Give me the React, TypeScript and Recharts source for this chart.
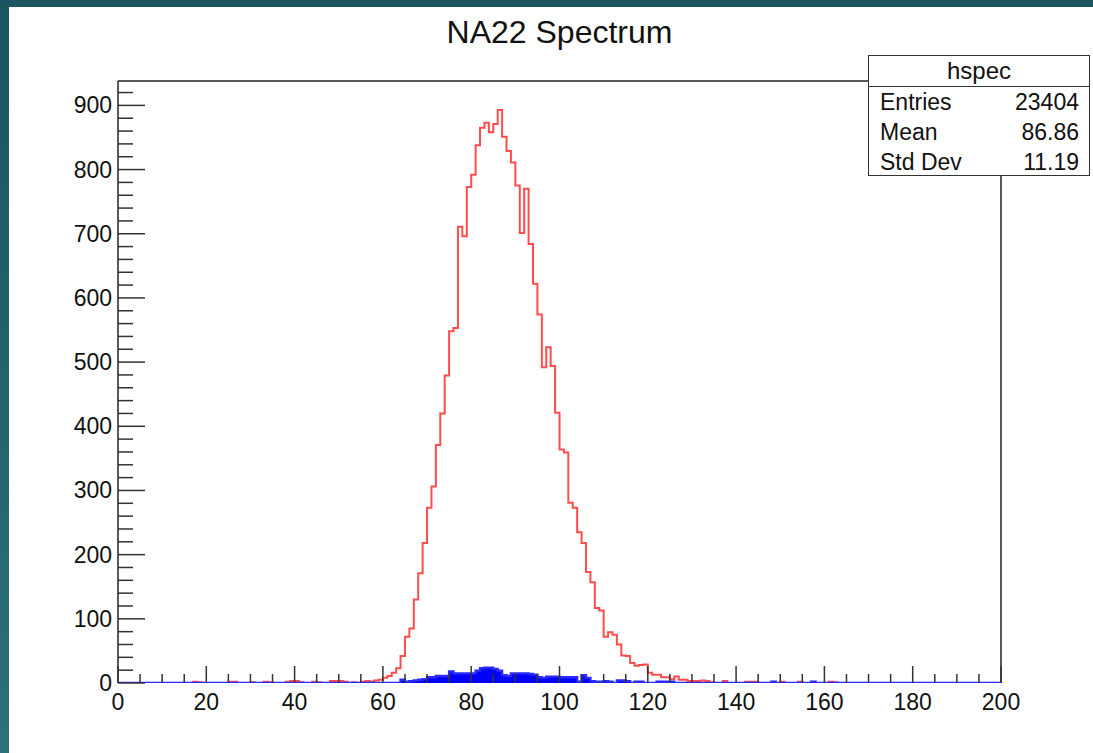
import { ComposedChart, Line, Area, XAxis, YAxis, ReferenceLine } from "recharts";

// 200 bins of width 1, from 0 to 200
const redCounts = [
  0, 0, 0, 0, 0, 0, 0, 0, 0, 0, 0, 0, 0, 0, 0, 0, 0, 2, 1, 0,
  0, 0, 0, 0, 0, 2, 2, 0, 0, 0, 1, 0, 0, 2, 1, 0, 0, 0, 2, 3,
  3, 1, 0, 0, 2, 1, 0, 0, 3, 3, 3, 2, 0, 1, 0, 2, 3, 2, 4, 5,
  8, 11, 16, 23, 42, 72, 85, 130, 171, 218, 273, 306, 371, 420, 479, 548, 553, 711, 696, 773,
  792, 838, 865, 873, 858, 871, 893, 851, 829, 811, 775, 701, 770, 684, 622, 574, 492, 523, 494, 421,
  364, 359, 281, 273, 235, 218, 173, 157, 117, 113, 72, 79, 75, 60, 43, 42, 31, 27, 28, 29,
  16, 13, 13, 9, 9, 6, 10, 5, 5, 3, 3, 3, 4, 3, 1, 0, 0, 3, 0, 0,
  0, 0, 2, 2, 2, 0, 0, 0, 0, 0, 2, 0, 0, 0, 2, 0, 0, 0, 0, 0,
  0, 2, 1, 0, 0, 0, 0, 0, 0, 0, 0, 0, 0, 0, 0, 0, 0, 0, 0, 0,
  0, 0, 0, 0, 0, 0, 0, 0, 0, 0, 0, 0, 0, 0, 0, 0, 0, 0, 0, 0,
];

const blueCounts = [
  0, 0, 0, 0, 0, 0, 0, 0, 0, 0, 0, 0, 0, 0, 0, 0, 0, 0, 0, 0,
  0, 0, 0, 0, 0, 0, 0, 0, 0, 0, 0, 0, 0, 0, 0, 0, 0, 0, 0, 0,
  0, 0, 0, 0, 0, 0, 0, 0, 0, 0, 0, 0, 0, 0, 0, 0, 0, 0, 0, 0,
  0, 0, 0, 0, 5, 2, 3, 4, 5, 6, 9, 9, 11, 11, 11, 18, 15, 15, 15, 15,
  15, 19, 23, 24, 24, 22, 19, 12, 11, 15, 15, 15, 15, 14, 13, 9, 8, 10, 10, 10,
  9, 9, 9, 9, 2, 12, 8, 3, 2, 2, 3, 2, 0, 4, 4, 3, 0, 2, 2, 0,
  0, 0, 2, 2, 2, 2, 0, 0, 0, 0, 0, 0, 0, 0, 0, 0, 0, 0, 0, 0,
  0, 0, 0, 0, 0, 0, 0, 0, 2, 0, 0, 0, 0, 0, 0, 0, 0, 2, 0, 0,
  0, 0, 0, 0, 0, 0, 0, 0, 0, 0, 0, 0, 0, 0, 0, 0, 0, 0, 0, 0,
  0, 0, 0, 0, 0, 0, 0, 0, 0, 0, 0, 0, 0, 0, 0, 0, 0, 0, 0, 0,
];

const xTicks = [
  0, 5, 10, 15, 20, 25, 30, 35, 40, 45, 50, 55, 60, 65, 70, 75, 80, 85, 90, 95, 100,
  105, 110, 115, 120, 125, 130, 135, 140, 145, 150, 155, 160, 165, 170, 175, 180, 185, 190, 195, 200,
];
const yTicks = [
  0, 20, 40, 60, 80, 100, 120, 140, 160, 180, 200, 220, 240, 260, 280, 300, 320, 340, 360, 380,
  400, 420, 440, 460, 480, 500, 520, 540, 560, 580, 600, 620, 640, 660, 680, 700, 720, 740, 760,
  780, 800, 820, 840, 860, 880, 900, 920,
];

const statsRows = [
  ["Entries", "23404"],
  ["Mean", "86.86"],
  ["Std Dev", "11.19"],
];

const X_MAX = 200;
const Y_MAX = 938;
const FONT = '"Liberation Sans", Arial, Helvetica, sans-serif';

const table = redCounts.map((r, i) => ({ x: i, red: r, blue: blueCounts[i] }));
// closing point so the last bin gets its full width
table.push({ x: X_MAX, red: redCounts[199], blue: blueCounts[199] });

const XTick = (props: any) => {
  const { x, y, payload } = props;
  const major = payload.value % 20 === 0;
  return (
    <g>
      <line x1={x} y1={y} x2={x} y2={y - (major ? 17 : 9)} stroke="#333" strokeWidth={1.5} />
      {major && (
        <text x={x} y={y + 19} textAnchor="middle" dominantBaseline="central" fontFamily={FONT} fontSize={23} fill="#111">
          {payload.value}
        </text>
      )}
    </g>
  );
};

const YTick = (props: any) => {
  const { x, y, payload } = props;
  const major = payload.value % 100 === 0;
  return (
    <g>
      <line x1={x} y1={y} x2={x + (major ? 27 : 15)} y2={y} stroke="#333" strokeWidth={1.5} />
      {major && (
        <text x={x - 6} y={y} textAnchor="end" dominantBaseline="central" fontFamily={FONT} fontSize={23} fill="#111">
          {payload.value}
        </text>
      )}
    </g>
  );
};

export default function App() {
  return (
    <div style={{ position: "absolute", left: 0, top: 0, width: 1093, height: 753, background: "linear-gradient(180deg, #1b5560, #2c7276)", overflow: "hidden" }}>
      <div style={{ position: "absolute", left: 9, top: 7, width: 1084, height: 746, background: "#fff" }} />
      <div style={{ position: "absolute", left: 0, top: 0 }}>
        <ComposedChart width={1093} height={753} data={table} margin={{ top: 81, right: 92, bottom: 40, left: 68 }}>
          <XAxis
            type="number"
            dataKey="x"
            domain={[0, X_MAX]}
            ticks={xTicks}
            interval={0}
            tickSize={0}
            tickMargin={0}
            axisLine={false}
            height={30}
            tick={(p: any) => <XTick {...p} />}
          />
          <YAxis
            type="number"
            domain={[0, Y_MAX]}
            ticks={yTicks}
            interval={0}
            tickSize={0}
            tickMargin={0}
            axisLine={false}
            allowDataOverflow
            width={50}
            tick={(p: any) => <YTick {...p} />}
          />
          {/* frame: left, top, right (bottom is the blue zero line) */}
          <ReferenceLine x={0} stroke="#222" strokeWidth={1.5} />
          <ReferenceLine x={X_MAX} stroke="#222" strokeWidth={1.5} />
          <ReferenceLine y={Y_MAX} stroke="#222" strokeWidth={1.5} />
          <Line
            type="stepAfter"
            dataKey="red"
            stroke="#ff4d4d"
            strokeWidth={2}
            dot={false}
            isAnimationActive={false}
          />
          <Area
            type="stepAfter"
            dataKey="blue"
            stroke="#2a2aff"
            strokeWidth={2.4}
            fill="#0000ff"
            fillOpacity={1}
            isAnimationActive={false}
            zIndex={500}
          />
        </ComposedChart>
      </div>
      <div style={{ position: "absolute", left: 0, top: 13, width: 1119, textAlign: "center", fontFamily: FONT, fontSize: 32, color: "#111", lineHeight: "38px" }}>
        NA22 Spectrum
      </div>
      <div style={{ position: "absolute", left: 868, top: 55, width: 222, height: 121, boxSizing: "border-box", border: "1.5px solid #333", background: "#fff", fontFamily: FONT, fontSize: 23, color: "#111" }}>
        <div style={{ height: 30, borderBottom: "1.5px solid #333", textAlign: "center", lineHeight: "30px", fontSize: 24 }}>hspec</div>
        {statsRows.map(([k, v]) => (
          <div key={k} style={{ display: "flex", justifyContent: "space-between", padding: "0 10px 0 11px", height: 30, lineHeight: "30px" }}>
            <span>{k}</span>
            <span>{v}</span>
          </div>
        ))}
      </div>
    </div>
  );
}
